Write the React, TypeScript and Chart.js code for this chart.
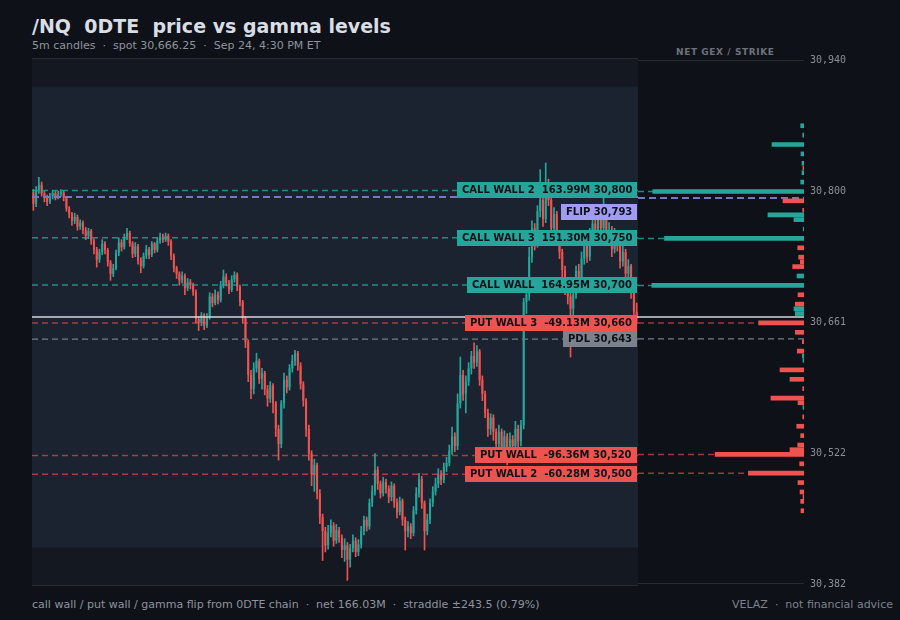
import React, { useEffect, useRef } from "react";
import { Chart, registerables } from "chart.js";

Chart.register(...registerables);

// ---------------- DATA ----------------
const firstOpen = 30798;
const closes = [
  30786, 30800, 30806, 30797, 30792, 30788, 30794, 30797, 30793, 30796,
  30798, 30792, 30781, 30775, 30768, 30772, 30762, 30766, 30758, 30752,
  30757, 30747, 30738, 30727, 30735, 30744, 30737, 30724, 30712, 30718,
  30734, 30745, 30740, 30751, 30755, 30744, 30733, 30741, 30726, 30720,
  30731, 30738, 30732, 30744, 30737, 30747, 30751, 30748, 30752, 30746,
  30731, 30718, 30712, 30705, 30710, 30697, 30703, 30700, 30693, 30664,
  30660, 30668, 30657, 30666, 30688, 30681, 30690, 30684, 30700, 30709,
  30702, 30695, 30706, 30711, 30698, 30682, 30665, 30640, 30605, 30590,
  30612, 30620, 30601, 30607, 30590, 30580, 30594, 30575, 30548, 30532,
  30575, 30600, 30592, 30612, 30620, 30628, 30615, 30595, 30578, 30548,
  30522, 30500, 30510, 30480, 30455, 30440, 30425, 30438, 30446, 30430,
  30441, 30433, 30420, 30425, 30410, 30422, 30430, 30418, 30426, 30440,
  30452, 30445, 30470, 30482, 30505, 30490, 30480, 30492, 30485, 30476,
  30488, 30470, 30460, 30472, 30452, 30440, 30445, 30438, 30462, 30480,
  30495, 30470, 30440, 30452, 30470, 30482, 30490, 30500, 30494, 30508,
  30512, 30525, 30540, 30530, 30575, 30605, 30585, 30598, 30612, 30625,
  30618, 30630, 30600, 30585, 30565, 30548, 30560, 30545, 30532, 30545,
  30528, 30540, 30525, 30537, 30530, 30548, 30535, 30552, 30682, 30690,
  30730, 30760, 30745, 30778, 30790, 30770, 30805, 30790, 30760, 30775,
  30750, 30735, 30716, 30700, 30688, 30675, 30690, 30715, 30705, 30728,
  30745, 30730, 30752, 30765, 30750, 30770, 30760, 30775, 30748, 30758,
  30738, 30752, 30742, 30725, 30735, 30712, 30720, 30692, 30672, 30666.25,
];
const highs = [
  30801, 30804, 30814, 30809, 30799, 30795, 30797, 30800, 30799, 30799,
  30801, 30800, 30794, 30783, 30777, 30776, 30774, 30769, 30768, 30761,
  30760, 30759, 30749, 30740, 30738, 30748, 30746, 30739, 30726, 30722,
  30737, 30750, 30748, 30754, 30760, 30757, 30746, 30745, 30743, 30729,
  30734, 30742, 30740, 30746, 30745, 30750, 30755, 30754, 30755, 30754,
  30748, 30733, 30720, 30714, 30714, 30712, 30707, 30706, 30702, 30695,
  30667, 30671, 30670, 30670, 30692, 30691, 30695, 30693, 30704, 30716,
  30712, 30705, 30710, 30714, 30713, 30700, 30684, 30667, 30642, 30610,
  30618, 30628, 30622, 30612, 30609, 30594, 30598, 30596, 30577, 30552,
  30578, 30607, 30604, 30616, 30626, 30631, 30630, 30618, 30598, 30580,
  30552, 30525, 30516, 30512, 30484, 30458, 30444, 30446, 30452, 30449,
  30447, 30444, 30436, 30432, 30428, 30426, 30436, 30433, 30431, 30445,
  30456, 30455, 30474, 30488, 30522, 30508, 30493, 30497, 30495, 30488,
  30492, 30490, 30474, 30476, 30474, 30455, 30450, 30448, 30466, 30486,
  30501, 30498, 30472, 30458, 30474, 30487, 30496, 30506, 30504, 30512,
  30518, 30531, 30550, 30544, 30585, 30624, 30610, 30604, 30618, 30630,
  30639, 30636, 30632, 30604, 30588, 30569, 30564, 30563, 30548, 30552,
  30548, 30546, 30543, 30544, 30541, 30556, 30552, 30557, 30686, 30700,
  30740, 30768, 30765, 30784, 30822, 30796, 30829, 30812, 30793, 30782,
  30778, 30754, 30738, 30720, 30704, 30693, 30697, 30720, 30722, 30735,
  30752, 30750, 30760, 30778, 30770, 30779, 30775, 30793, 30779, 30766,
  30762, 30760, 30756, 30746, 30741, 30738, 30727, 30722, 30696, 30681,
];
const lows = [
  30779, 30783, 30797, 30794, 30788, 30784, 30786, 30791, 30790, 30791,
  30794, 30789, 30778, 30771, 30763, 30765, 30758, 30759, 30754, 30748,
  30749, 30743, 30733, 30719, 30724, 30732, 30733, 30720, 30705, 30709,
  30716, 30731, 30736, 30738, 30748, 30741, 30729, 30730, 30722, 30713,
  30718, 30728, 30728, 30730, 30734, 30735, 30744, 30745, 30746, 30742,
  30727, 30714, 30707, 30700, 30702, 30690, 30694, 30696, 30689, 30660,
  30652, 30657, 30653, 30655, 30664, 30677, 30679, 30680, 30682, 30697,
  30699, 30691, 30693, 30703, 30694, 30678, 30660, 30634, 30598, 30580,
  30585, 30608, 30596, 30590, 30584, 30572, 30576, 30565, 30540, 30515,
  30528, 30570, 30586, 30589, 30608, 30615, 30610, 30590, 30572, 30540,
  30515, 30488, 30482, 30474, 30448, 30409, 30418, 30421, 30434, 30424,
  30427, 30428, 30412, 30408, 30388, 30402, 30418, 30413, 30414, 30422,
  30436, 30440, 30442, 30466, 30478, 30484, 30475, 30477, 30480, 30470,
  30472, 30465, 30454, 30457, 30446, 30420, 30434, 30432, 30435, 30458,
  30476, 30464, 30420, 30436, 30448, 30466, 30478, 30486, 30489, 30491,
  30503, 30509, 30521, 30524, 30526, 30570, 30578, 30565, 30594, 30606,
  30612, 30614, 30594, 30578, 30560, 30540, 30542, 30536, 30522, 30528,
  30520, 30516, 30510, 30520, 30515, 30526, 30522, 30530, 30548, 30670,
  30684, 30724, 30737, 30740, 30772, 30762, 30766, 30784, 30752, 30754,
  30742, 30728, 30705, 30690, 30680, 30624, 30668, 30686, 30698, 30700,
  30722, 30724, 30726, 30748, 30744, 30746, 30754, 30756, 30742, 30744,
  30730, 30734, 30736, 30718, 30720, 30705, 30700, 30686, 30664, 30660,
];

const gexStrikes = [
  30870, 30860, 30850, 30840, 30830, 30825, 30820, 30810, 30800, 30790,
  30780, 30775, 30770, 30760, 30750, 30740, 30730, 30725, 30720, 30710,
  30700, 30690, 30680, 30675, 30670, 30660, 30650, 30640, 30630, 30625,
  30620, 30610, 30600, 30590, 30580, 30575, 30570, 30560, 30550, 30540,
  30530, 30525, 30520, 30510, 30500, 30490, 30480, 30475, 30470, 30460,
];
const gexValues = [
  3.6, 1.4, 34.7, 3.3, 2.2, -1.1, 2.2, 3.6, 163.99, -22.8,
  -1.4, 39.1, 10.9, 0.8, 151.3, -6.8, -5.8, -4.0, -12.3, 7.6,
  164.95, -6.5, -9.4, 10.9, 9.4, -49.13, -9.4, -1.8, -7.3, 1.8,
  1.1, -26.0, -15.2, -1.4, -35.8, -6.5, 1.1, -1.4, -7.9, -3.6,
  -6.8, -15.2, -96.36, -4.7, -60.28, -6.5, -4.3, -1.1, -3.6, -3.3,
];

const levelNames = ["CALL WALL 2", "FLIP", "CALL WALL 3", "CALL WALL", "PUT WALL 3", "PDL", "PUT WALL", "PUT WALL 2"];
const levelPrices = [30800, 30793, 30750, 30700, 30660, 30643, 30520, 30500];
const levelGex = [163.99, null, 151.3, 164.95, -49.13, null, -96.36, -60.28];
const levelKinds = ["call", "flip", "call", "call", "put", "pdl", "put", "put"];

const spot = 30666.25;
const straddle = 243.5;
const Y_MIN = 30382;
const Y_MAX = 30940;
const yTickValues = [30382, 30521.5, 30661, 30800.5, 30940];
const yTickLabels = ["30,382", "30,522", "30,661", "30,800", "30,940"];
const GEX_AXIS_MAX = 180;

// ---------------- STYLE ----------------
const BG = "#0e1117";
const PANEL = "#141820";
const BAND = "#1b2330";
const UP = "#26a69a";
const DOWN = "#ef5350";
const BORDER = "#262b34";
const LINE_COLORS: Record<string, string> = {
  call: "rgba(38,166,154,0.8)",
  put: "rgba(239,83,80,0.62)",
  flip: "#7a76c2",
  pdl: "#767d87",
};
const LABEL_BG: Record<string, string> = {
  call: "#26a69a",
  put: "#ef5350",
  flip: "#a29bf6",
  pdl: "#7b828c",
};
const SPOT_COLOR = "#d4d8de";

// canvas B geometry: plot area must be 10px inside the canvas on top/bottom
const B_PAD = 10;
const B_HEIGHT = 548;

function fmtPrice(p: number) {
  return p.toLocaleString("en-US");
}
function labelText(i: number) {
  const g = levelGex[i];
  if (g === null) return `${levelNames[i]} ${fmtPrice(levelPrices[i])}`;
  return `${levelNames[i]}  ${g.toFixed(2)}M ${fmtPrice(levelPrices[i])}`;
}

function drawLines(chart: any, left: number, right: number) {
  const { ctx, scales } = chart;
  const y = scales.y;
  ctx.save();
  for (let i = 0; i < levelPrices.length; i++) {
    const k = levelKinds[i];
    const py = y.getPixelForValue(levelPrices[i]);
    ctx.beginPath();
    ctx.setLineDash(k === "flip" ? [7, 4] : [6, 4]);
    ctx.lineDashOffset = 0;
    ctx.strokeStyle = LINE_COLORS[k];
    ctx.lineWidth = k === "flip" ? 2 : k === "pdl" ? 1.2 : 1.5;
    ctx.moveTo(left, py);
    ctx.lineTo(right, py);
    ctx.stroke();
  }
  ctx.setLineDash([]);
  const sy = y.getPixelForValue(spot);
  ctx.beginPath();
  ctx.strokeStyle = SPOT_COLOR;
  ctx.lineWidth = 1.5;
  ctx.moveTo(left, sy);
  ctx.lineTo(right, sy);
  ctx.stroke();
  ctx.restore();
}

function drawBorders(chart: any) {
  const { ctx, chartArea: a, scales } = chart;
  const y = scales.y;
  const t = y.getPixelForValue(Y_MAX);
  const b = y.getPixelForValue(Y_MIN);
  ctx.save();
  ctx.strokeStyle = BORDER;
  ctx.lineWidth = 1;
  ctx.beginPath();
  ctx.moveTo(a.left, Math.round(t) + 0.5);
  ctx.lineTo(a.right, Math.round(t) + 0.5);
  ctx.moveTo(a.left, Math.round(b) - 0.5);
  ctx.lineTo(a.right, Math.round(b) - 0.5);
  ctx.stroke();
  ctx.restore();
}

const pricePlugin = {
  id: "pricePanel",
  beforeDatasetsDraw(chart: any) {
    const { ctx, chartArea: a, scales } = chart;
    const y = scales.y;
    ctx.save();
    ctx.fillStyle = PANEL;
    ctx.fillRect(a.left, a.top, a.width, a.height);
    const yt = y.getPixelForValue(spot + straddle);
    const yb = y.getPixelForValue(spot - straddle);
    ctx.fillStyle = BAND;
    ctx.fillRect(a.left, yt, a.width, yb - yt);
    ctx.restore();
    drawBorders(chart);
  },
  afterDatasetsDraw(chart: any) {
    const { ctx, chartArea: a, scales } = chart;
    drawLines(chart, a.left, a.right);
    const y = scales.y;
    const items = levelPrices
      .map((p, i) => ({ i, c: y.getPixelForValue(p) }))
      .sort((m, n) => m.c - n.c);
    let prev = -Infinity;
    ctx.save();
    ctx.font = "bold 10px 'DejaVu Sans'";
    ctx.textBaseline = "middle";
    ctx.textAlign = "left";
    for (const it of items) {
      let c = it.c;
      if (c - prev < 16) c = prev + 22;
      prev = c;
      const txt = labelText(it.i);
      const w = ctx.measureText(txt).width + 10;
      const x = a.right - 1 - w;
      ctx.fillStyle = LABEL_BG[levelKinds[it.i]];
      ctx.fillRect(Math.round(x), Math.round(c - 8), Math.round(w), 16);
      ctx.fillStyle = "#0e1117";
      ctx.fillText(txt, Math.round(x) + 5, Math.round(c) + 0.5);
    }
    ctx.restore();
  },
};

const gexPlugin = {
  id: "gexPanel",
  beforeDatasetsDraw(chart: any) {
    const { chartArea: a } = chart;
    drawBorders(chart);
    drawLines(chart, a.left, a.right);
  },
};

export default function App() {
  const aRef = useRef<HTMLCanvasElement>(null);
  const bRef = useRef<HTMLCanvasElement>(null);

  useEffect(() => {
    const opens = closes.map((c, i) => (i === 0 ? firstOpen : closes[i - 1]));
    const colors = closes.map((c, i) => (c >= opens[i] ? UP : DOWN));
    const labels = closes.map((_, i) => String(i));

    const chartA = new Chart(aRef.current as HTMLCanvasElement, {
      type: "bar",
      data: {
        labels,
        datasets: [
          {
            data: opens.map((o, i) => [o, closes[i]]) as any,
            backgroundColor: colors,
            barPercentage: 0.74,
            categoryPercentage: 1,
            grouped: false,
            order: 0,
            minBarLength: 1,
          } as any,
          {
            data: lows.map((l, i) => [l, highs[i]]) as any,
            backgroundColor: colors,
            barThickness: 1,
            grouped: false,
            order: 1,
          } as any,
        ],
      },
      options: {
        responsive: false,
        animation: false,
        events: [],
        layout: { padding: 0 },
        plugins: { legend: { display: false }, tooltip: { enabled: false } },
        scales: {
          x: { display: false, offset: true },
          y: { display: false, min: Y_MIN, max: Y_MAX },
        },
      } as any,
      plugins: [pricePlugin],
    });

    const chartB = new Chart(bRef.current as HTMLCanvasElement, {
      type: "bar",
      data: {
        datasets: [
          {
            data: gexStrikes.map((s, i) => ({ x: Math.abs(gexValues[i]), y: s })) as any,
            backgroundColor: gexValues.map((v) => (v >= 0 ? UP : DOWN)),
            barThickness: 4,
          } as any,
        ],
      },
      options: {
        indexAxis: "y",
        responsive: false,
        animation: false,
        events: [],
        layout: { padding: { top: B_PAD, bottom: B_PAD, left: 0, right: 0 } },
        plugins: { legend: { display: false }, tooltip: { enabled: false } },
        scales: {
          x: { type: "linear", display: false, reverse: true, min: 0, max: GEX_AXIS_MAX, offset: false },
          y: {
            type: "linear",
            position: "right",
            offset: false,
            min: Y_MIN,
            max: Y_MAX,
            grid: { display: false, drawTicks: false, offset: false },
            border: { display: false },
            afterBuildTicks: (s: any) => {
              s.ticks = yTickValues.map((v) => ({ value: v }));
            },
            afterFit: (s: any) => {
              s.width = 96;
            },
            ticks: {
              autoSkip: false,
              padding: 6,
              color: "#8a9099",
              font: { family: "'DejaVu Sans Mono'", size: 10 },
              callback: (v: any) => {
                const k = yTickValues.indexOf(Number(v));
                return k >= 0 ? yTickLabels[k] : "";
              },
            },
          },
        },
      } as any,
      plugins: [gexPlugin],
    });

    // make sure the GEX panel's value scale spans exactly the same pixels as the price panel
    const ys = (chartB as any).scales.y;
    const topErr = ys.getPixelForValue(Y_MAX) - B_PAD;
    const botErr = ys.getPixelForValue(Y_MIN) - (B_HEIGHT - B_PAD);
    if (Math.abs(topErr) > 0.25 || Math.abs(botErr) > 0.25) {
      (chartB.options as any).layout.padding = {
        top: B_PAD - topErr,
        bottom: B_PAD + botErr,
        left: 0,
        right: 0,
      };
      chartB.update();
    }

    return () => {
      chartA.destroy();
      chartB.destroy();
    };
  }, []);

  const textBase: React.CSSProperties = {
    position: "absolute",
    whiteSpace: "pre",
    fontFamily: "'DejaVu Sans', sans-serif",
    margin: 0,
  };

  return (
    <div
      style={{
        position: "fixed",
        left: 0,
        top: 0,
        width: 900,
        height: 620,
        background: BG,
        overflow: "hidden",
      }}
    >
      <div style={{ ...textBase, left: 32, top: 17, fontSize: 19, lineHeight: "19px", fontWeight: "bold", color: "#d9dde4" }}>
        {"/NQ  0DTE  price vs gamma levels"}
      </div>
      <div style={{ ...textBase, left: 32, top: 39.5, fontSize: 11, lineHeight: "11px", color: "#8e949e" }}>
        {"5m candles  ·  spot 30,666.25  ·  Sep 24, 4:30 PM ET"}
      </div>
      <div style={{ ...textBase, left: 676, top: 47.5, fontSize: 9, lineHeight: "9px", fontWeight: "bold", letterSpacing: "0.6px", color: "#6c727c" }}>
        {"NET GEX / STRIKE"}
      </div>
      <canvas
        ref={aRef}
        width={606}
        height={528}
        style={{ position: "absolute", left: 32, top: 58, width: 606, height: 528 }}
      />
      <canvas
        ref={bRef}
        width={262}
        height={B_HEIGHT}
        style={{ position: "absolute", left: 638, top: 58 - B_PAD, width: 262, height: B_HEIGHT }}
      />
      <div style={{ ...textBase, left: 32, top: 599, fontSize: 11, lineHeight: "11px", color: "#8e949e" }}>
        {"call wall / put wall / gamma flip from 0DTE chain  ·  net 166.03M  ·  straddle ±243.5 (0.79%)"}
      </div>
      <div style={{ ...textBase, right: 7, top: 599, fontSize: 11, lineHeight: "11px", color: "#7c828c" }}>
        {"VELAZ  ·  not financial advice"}
      </div>
    </div>
  );
}
